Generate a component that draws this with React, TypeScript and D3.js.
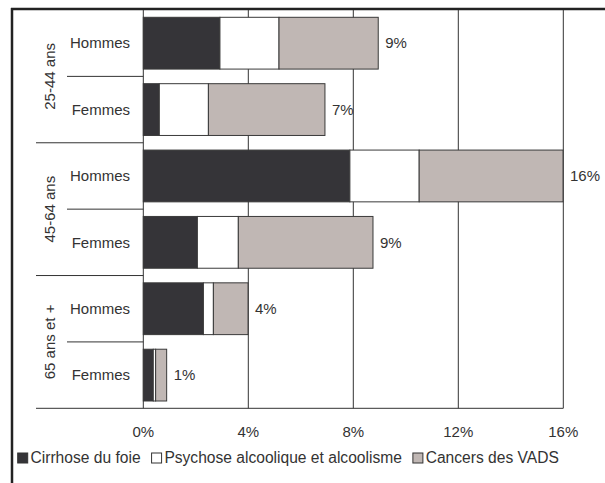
import React, { useEffect, useRef } from 'react';
import * as d3 from 'd3';

// age groups and rows (two rows per group)
const groups = ['25-44 ans', '45-64 ans', '65 ans et +'];
const sexes = ['Hommes', 'Femmes'];
const seriesNames = ['Cirrhose du foie', 'Psychose alcoolique et alcoolisme', 'Cancers des VADS'];

// values in %, order: H 25-44, F 25-44, H 45-64, F 45-64, H 65+, F 65+
const cirrhose = [2.92, 0.61, 7.87, 2.06, 2.29, 0.38];
const psychose = [2.25, 1.87, 2.64, 1.56, 0.38, 0.09];
const cancers = [3.78, 4.44, 5.48, 5.13, 1.32, 0.42];
const totalLabels = ['9%', '7%', '16%', '9%', '4%', '1%'];

const xTicks = [0, 4, 8, 12, 16];
const colors = ['#353438', '#ffffff', '#c0b7b4'];

const W = 605;
const H = 483;
const FONT = '"Liberation Sans", Arial, sans-serif';

export default function App() {
  const ref = useRef<SVGSVGElement | null>(null);

  useEffect(() => {
    const svg = d3.select(ref.current);
    svg.selectAll('*').remove();

    const rows = groups.flatMap((g, gi) => sexes.map((s, si) => ({
      key: gi * 2 + si, group: g, sex: s,
      cirrhose: cirrhose[gi * 2 + si],
      psychose: psychose[gi * 2 + si],
      cancers: cancers[gi * 2 + si],
      label: totalLabels[gi * 2 + si],
    })));

    const x = d3.scaleLinear().domain([0, 16]).range([143.3, 563.3]);
    const y = d3.scaleBand<number>()
      .domain(rows.map(d => d.key))
      .range([10, 408.3])
      .paddingInner(0.22)
      .paddingOuter(0.11);
    const step = y.step();
    const yTop = 10;
    const yBottom = 408.3;

    // frame (top + left)
    svg.append('line').attr('x1', 11).attr('x2', W).attr('y1', 9).attr('y2', 9)
      .attr('stroke', '#222').attr('stroke-width', 2.5);
    svg.append('line').attr('x1', 12).attr('x2', 12).attr('y1', 8).attr('y2', H)
      .attr('stroke', '#222').attr('stroke-width', 2.5);

    // vertical grid lines
    svg.append('g').selectAll('line').data(xTicks).enter().append('line')
      .attr('x1', d => x(d)).attr('x2', d => x(d))
      .attr('y1', yTop).attr('y2', yBottom)
      .attr('stroke', '#333').attr('stroke-width', 1);

    // row separators on the left
    d3.range(1, 7).forEach(i => {
      const yy = yTop + step * i;
      const x0 = i % 2 === 0 ? 36 : 67;
      svg.append('line').attr('x1', x0).attr('x2', i === 6 ? x(16) : x(0))
        .attr('y1', yy).attr('y2', yy)
        .attr('stroke', '#333').attr('stroke-width', 1);
    });

    // stacked bars
    const stack = d3.stack<any>().keys(['cirrhose', 'psychose', 'cancers']);
    const layers = stack(rows);
    svg.append('g').selectAll('g').data(layers).enter().append('g')
      .attr('fill', (d, i) => colors[i])
      .selectAll('rect').data(d => d).enter().append('rect')
        .attr('x', d => x(d[0]))
        .attr('y', d => y(d.data.key) as number)
        .attr('width', d => x(d[1]) - x(d[0]))
        .attr('height', y.bandwidth())
        .attr('stroke', '#3a3a3a')
        .attr('stroke-width', 1);

    const txt = (sel: any, size = 15) => sel.attr('font-family', FONT).attr('font-size', size).attr('fill', '#333');

    // totals
    svg.append('g').selectAll('text').data(rows).enter().append('text')
      .call(txt)
      .attr('x', d => x(d.cirrhose + d.psychose + d.cancers) + 7)
      .attr('y', d => (y(d.key) as number) + y.bandwidth() / 2)
      .attr('dy', '0.35em')
      .text(d => d.label);

    // row labels
    svg.append('g').selectAll('text').data(rows).enter().append('text')
      .call(txt)
      .attr('x', 130)
      .attr('y', d => (y(d.key) as number) + y.bandwidth() / 2)
      .attr('dy', '0.35em')
      .attr('text-anchor', 'end')
      .text(d => d.sex);

    // group labels
    svg.append('g').selectAll('text').data(groups).enter().append('text')
      .call(txt)
      .attr('transform', (d, i) => `translate(49.5,${yTop + step * (2 * i + 1)}) rotate(-90)`)
      .attr('dy', '0.35em')
      .attr('text-anchor', 'middle')
      .text(d => d);

    // x tick labels
    svg.append('g').selectAll('text').data(xTicks).enter().append('text')
      .call(txt)
      .attr('x', d => x(d))
      .attr('y', 432)
      .attr('dy', '0.35em')
      .attr('text-anchor', 'middle')
      .text(d => `${d}%`);

    // legend
    let lx = 17.7;
    const ly = 458;
    seriesNames.forEach((name, i) => {
      svg.append('rect').attr('x', lx).attr('y', ly - 5).attr('width', 10).attr('height', 10)
        .attr('fill', colors[i]).attr('stroke', '#333').attr('stroke-width', 1);
      const t = svg.append('text').call(txt, 15.6)
        .attr('x', lx + 12.8).attr('y', ly).attr('dy', '0.35em')
        .text(name);
      const w = (t.node() as SVGTextElement).getComputedTextLength();
      lx = lx + 12.8 + w + 11;
    });
  }, []);

  return (
    <svg ref={ref} width={W} height={H}
      style={{ position: 'absolute', left: 0, top: 0, background: '#fff' }} />
  );
}
